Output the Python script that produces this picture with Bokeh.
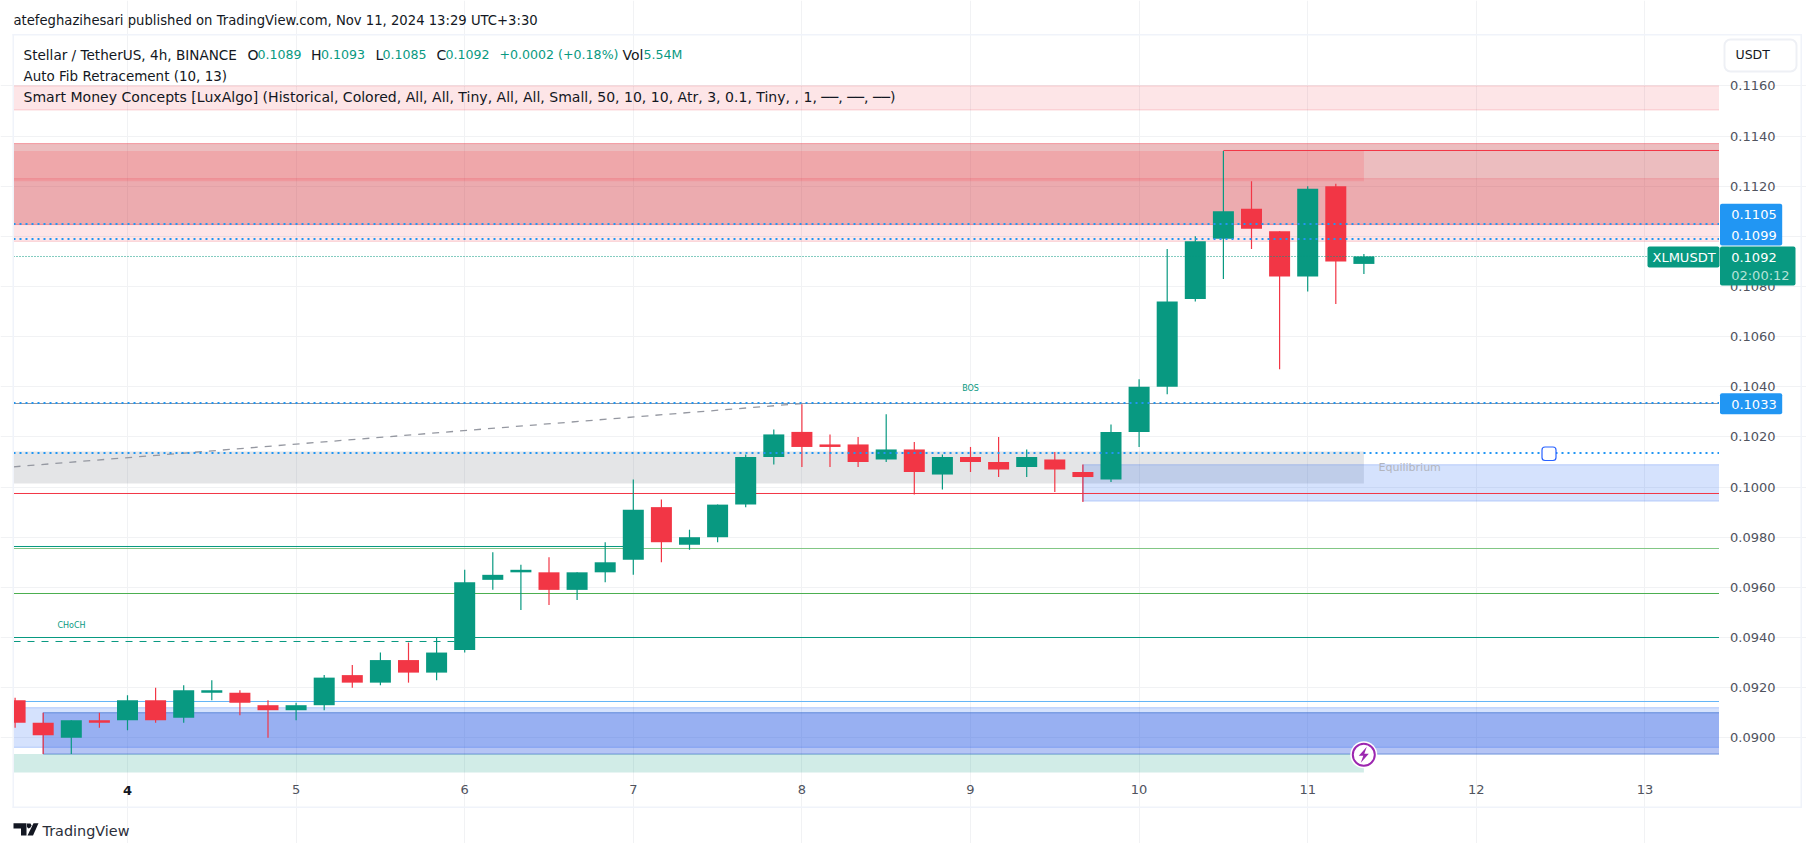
from bokeh.plotting import figure
from bokeh.embed import file_html
from bokeh.resources import INLINE
from bokeh.models import (Label, BoxAnnotation, PolyAnnotation, FixedTicker,
                          NumeralTickFormatter, Range1d)

# ---------- data ----------
bar_x = [3 + (2 + i) / 6 for i in range(49)]
opens = [0.0915,0.0906,0.0900,0.0907,0.0907,0.0915,0.0908,0.0918,0.0918,0.0913,0.0911,0.0913,0.0925,0.0922,0.0931,0.0926,
         0.0935,0.0963,0.0966,0.0966,0.0959,0.0966,0.0971,0.0992,0.0977,0.0980,0.0993,0.1012,0.1022,0.1017,0.1017,0.1011,
         0.1015,0.1005,0.1012,0.1010,0.1008,0.1011,0.1006,0.1003,0.1022,0.1040,0.1075,0.1099,0.1111,0.1102,0.1084,0.1120,0.1089]
closes = [0.0906,0.0901,0.0907,0.0906,0.0915,0.0907,0.0919,0.0919,0.0914,0.0911,0.0913,0.0924,0.0922,0.0931,0.0926,0.0934,
          0.0962,0.0965,0.0967,0.0959,0.0966,0.0970,0.0991,0.0978,0.0980,0.0993,0.1012,0.1021,0.1016,0.1016,0.1010,0.1015,
          0.1006,0.1012,0.1010,0.1007,0.1012,0.1007,0.1004,0.1022,0.1040,0.1074,0.1098,0.1110,0.1103,0.1084,0.1119,0.1090,0.1092]
highs = [0.0916,0.0910,0.0907,0.0910,0.0917,0.0920,0.0921,0.0923,0.0919,0.0915,0.0914,0.0925,0.0929,0.0934,0.0938,0.0940,
         0.0967,0.0974,0.0969,0.0972,0.0966,0.0978,0.1003,0.0995,0.0983,0.0993,0.1013,0.1023,0.1033,0.1021,0.1020,0.1029,
         0.1018,0.1013,0.1016,0.1020,0.1015,0.1014,0.1009,0.1025,0.1043,0.1095,0.1100,0.1134,0.1122,0.1102,0.1120,0.1121,0.1093]
lows = [0.0904,0.08935,0.08935,0.0904,0.0903,0.0906,0.0906,0.0915,0.0909,0.0900,0.0907,0.0911,0.0920,0.0921,0.0922,0.0923,
        0.0934,0.0959,0.0951,0.0953,0.0955,0.0962,0.0965,0.0970,0.0975,0.0978,0.0992,0.1009,0.1008,0.1008,0.1008,0.1010,
        0.0997,0.0999,0.1006,0.1004,0.1004,0.0998,0.0994,0.1002,0.1016,0.1037,0.1074,0.1083,0.1095,0.1047,0.1078,0.1073,0.1085]
y_ticks = [0.0900,0.0920,0.0940,0.0960,0.0980,0.1000,0.1020,0.1040,0.1060,0.1080,0.1100,0.1120,0.1140,0.1160]
x_ticks = [4,5,6,7,8,9,10,11,12,13]
x_tick_labels = {4:"",5:"5",6:"6",7:"7",8:"8",9:"9",10:"10",11:"11",12:"12",13:"13"}

GREEN="#089981"; RED="#f23645"; BLUE="#2196f3"; TXT="#131722"; AX="#50535e"
FONT="DejaVu Sans"; NUMF="DejaVu Sans"

def dx(X): return 4+(X-127)/168.6
def py(Y): return 0.09+(737.3-Y)/25073

p = figure(width=1806, height=843, output_backend="svg", toolbar_location=None,
           x_range=Range1d(dx(0), dx(1806)), y_range=Range1d(py(843), py(0)),
           y_axis_location="right", min_border=0, background_fill_color="white",
           border_fill_color="white", outline_line_color=None)

L, R, BOT, TOP = dx(13), dx(1718.5), py(772), py(35)
END = 11.3333

for ax, t in ((p.xaxis[0], x_ticks), (p.yaxis[0], y_ticks)):
    ax.ticker = FixedTicker(ticks=t)
    ax.axis_line_color=None; ax.major_tick_line_color=None; ax.minor_tick_line_color=None
    ax.major_tick_out=0; ax.major_tick_in=0
    ax.major_label_text_color=AX
    ax.major_label_text_font=NUMF; ax.major_label_text_font_size="13px"
p.xaxis[0].major_label_overrides = x_tick_labels
p.xaxis[0].major_label_standoff = 12
p.xaxis[0].fixed_location = BOT
p.yaxis[0].formatter = NumeralTickFormatter(format="0.0000")
p.yaxis[0].major_label_standoff = 11
p.yaxis[0].fixed_location = R
for g in (p.xgrid[0], p.ygrid[0]):
    g.grid_line_color="#f1f2f4"; g.grid_line_width=1
p.xgrid[0].bounds = (BOT, TOP)
p.ygrid[0].bounds = (L, R)

def band(l, r, top, bot, fill, alpha, line=None, line_alpha=1, lw=1):
    p.quad(left=l, right=r, top=top, bottom=bot, fill_color=fill, fill_alpha=alpha, line_color=None)
    if line:
        p.segment(x0=[l,l], x1=[r,r], y0=[top,bot], y1=[top,bot], line_color=line, line_alpha=line_alpha, line_width=lw)

def hline(y, color, x0=L, x1=R, lw=1, dash="solid", alpha=1):
    p.segment(x0=[x0], x1=[x1], y0=[y], y1=[y], line_color=color, line_width=lw, line_dash=dash, line_alpha=alpha)

# zones
band(L, R, 0.1160, 0.11504, "#f23645", 0.13, "#f23645", 0.2)
band(L, R, 0.1137, 0.11047, "#c0232a", 0.30, "#f23645", 0.4)
band(L, R, 0.1123, 0.1098, "#f23645", 0.13, "#f23645", 0.2)
band(L, END, 0.1134, 0.1122, "#ff3c46", 0.17)
band(L, END, 0.10142, 0.10014, "#787b86", 0.20)
band(9.6667, R, 0.10089, 0.09944, "#1e64f5", 0.19, "#1e64f5", 0.25)
p.segment(x0=[9.6667], x1=[9.6667], y0=[0.09944], y1=[0.10089], line_color="#1e64f5", line_alpha=0.6)
band(L, R, 0.0912, 0.08962, "#1e64f5", 0.19, "#1e64f5", 0.28)
band(3.5, R, 0.0910, 0.08935, "#1946dc", 0.32, "#2962c8", 0.6)
p.segment(x0=[3.5], x1=[3.5], y0=[0.08935], y1=[0.0910], line_color="#2962c8", line_alpha=0.7)
band(L, END, 0.08935, BOT, GREEN, 0.19)

# structure lines
hline(0.099744, RED)
hline(0.09755, "#81c784")
hline(0.09763, GREEN, x1=7.0)
hline(0.095755, "#4caf50")
hline(0.0940, GREEN)
hline(0.093841, GREEN, x1=5.95, dash="7 7")
hline(0.091448, "#64b5f6")
hline(0.113424, RED, x0=10.5)
hline(0.103333, "#787b86", alpha=0.8)
p.line(x=[L, 8.0], y=[py(466.3), 0.103333], line_color="#9598a1", line_width=1.3, line_dash="7 7")

# candles
colors = [GREEN if c >= o else RED for o, c in zip(opens, closes)]
half = 10.5/168.6
p.segment(x0=bar_x, x1=bar_x, y0=lows, y1=highs, line_color=colors, line_width=1.2)
p.quad(left=[max(x-half, L) for x in bar_x], right=[x+half for x in bar_x],
       top=[max(o,c) for o,c in zip(opens,closes)], bottom=[min(o,c) for o,c in zip(opens,closes)],
       fill_color=colors, line_color=None)

# dotted lines above candles
hline(0.109196, GREEN, x1=dx(1647), dash="1 2", lw=1)
hline(0.110492, BLUE, dash="2 4", lw=2)
hline(0.109894, BLUE, dash="2 4", lw=2)
hline(0.103353, BLUE, dash="2 4", lw=2)
hline(0.101359, BLUE, dash="2 4", lw=2)

def text(X, Y, s, color=TXT, size="13.47px", font=FONT, style="normal", align="left"):
    p.add_layout(Label(x=X, y=Y, x_units="canvas", y_units="canvas", text=s, text_color=color, text_font=font,
                       text_font_size=size, text_font_style=style, text_align=align, text_baseline="middle",
                       level="overlay"))

def box(X0, X1, Y0, Y1, fill, line=None, radius=0, lw=1, level="overlay", fa=1.0):
    p.add_layout(BoxAnnotation(left=X0, right=X1, top=Y0, bottom=Y1, left_units="canvas", right_units="canvas",
                               top_units="canvas", bottom_units="canvas",
                               fill_color=fill, fill_alpha=fa, line_color=line, line_alpha=1, line_width=lw,
                               border_radius=radius, level=level, editable=False))

# chart notes
text(71, 625, "CHoCH", GREEN, "8px", align="center")
text(970, 388, "BOS", GREEN, "8px", align="center")
text(1378, 467, "Equilibrium", "#b2b5be", "11px")

# drawing handle
box(1541.5, 1555.5, 446.5, 460, "white", "#2962ff", 3, 1.2)

# lightning marker
bx, by = 1363.3, 754.3
p.circle(x=[dx(bx)], y=[py(by)], radius=13.5, radius_units="screen", fill_color="white", line_color=None)
p.circle(x=[dx(bx)], y=[py(by)], radius=11, radius_units="screen", fill_color="white", line_color="#9c27b0", line_width=2)
bolt = [(3,-8),(-5,1),(-0.5,1),(-3,8),(5,-1),(0.5,-1)]
p.patch(x=[dx(bx+a) for a,b in bolt], y=[py(by+b) for a,b in bolt], fill_color="#9c27b0", line_color=None)

# header and legend
text(13, 20, "atefeghazihesari published on TradingView.com, Nov 11, 2024 13:29 UTC+3:30", size="13.2px")
text(23, 54, "Stellar / TetherUS, 4h, BINANCE", size="13.6px")
for X, s, c in ((247,"O",TXT),(257,"0.1089",GREEN),(310.6,"H",TXT),(320.4,"0.1093",GREEN),(375,"L",TXT),(382,"0.1085",GREEN),
                (436,"C",TXT),(445,"0.1092",GREEN),(499,"+0.0002 (+0.18%)",GREEN),(622,"Vol",TXT),(643,"5.54M",GREEN)):
    text(X, 54, s, c, "12.6px" if c == GREEN else "14px")
text(23, 75, "Auto Fib Retracement (10, 13)")
text(23, 96, "Smart Money Concepts [LuxAlgo] (Historical, Colored, All, All, Tiny, All, All, Small, 50, 10, 10, Atr, 3, 0.1, Tiny, , 1, ──, ──, ──)", size="14.05px")

# price tags
box(1719.5, 1781.7, 203.3, 245, BLUE, None, 2)
box(1719.5, 1781.7, 392.7, 413.7, BLUE, None, 2)
box(1647, 1719, 246, 267, GREEN, None, 2)
box(1719.5, 1795, 246, 285, GREEN, None, 2)
for Y, s in ((214,"0.1105"),(234.5,"0.1099"),(403.5,"0.1033"),(256.5,"0.1092")):
    text(1730.7, Y, s, "white", "13px", NUMF)
text(1730.7, 274.5, "02:00:12", "#b5e3d8", "13px", NUMF)
text(1652, 256.5, "XLMUSDT", "white", "13px", NUMF)

# currency button
box(1724, 1796, 39, 71, "white", "#eef0f5", 6, 2)
text(1735, 54, "USDT", TXT, "12.5px", FONT)

# bold date
text(127, 790, "4", TXT, "13px", NUMF, "bold", "center")

# outer frame
for X0, X1, Y0, Y1 in ((12, 13.5, 33.5, 807.5), (12, 1801.5, 33.5, 35), (12, 1801.5, 806, 807.5), (1800, 1801.5, 33.5, 807.5)):
    box(X0, X1, Y0, Y1, "#f0f3fa", None, 0, 1, level="annotation")

# logo and mark
def poly(pts, c):
    p.add_layout(PolyAnnotation(xs=[a for a,b in pts], ys=[b for a,b in pts], xs_units="canvas", ys_units="canvas",
                                fill_color=c, fill_alpha=1, line_color=None, level="overlay", editable=False))
LOGO="#131722"
poly([(13,822.7),(26,822.7),(26,835),(20.5,835),(20.5,828),(13,828)], LOGO)
poly([(33,822.7),(38,822.7),(32.5,835),(27,835)], LOGO)
poly([(26.5,823),(30,823),(31,825),(30,827),(28,828),(26.5,826.5)], LOGO)
text(42, 830, "TradingView", "#2a2e39", "14.4px", FONT)

open("out.html", "w").write(file_html(p, INLINE))
